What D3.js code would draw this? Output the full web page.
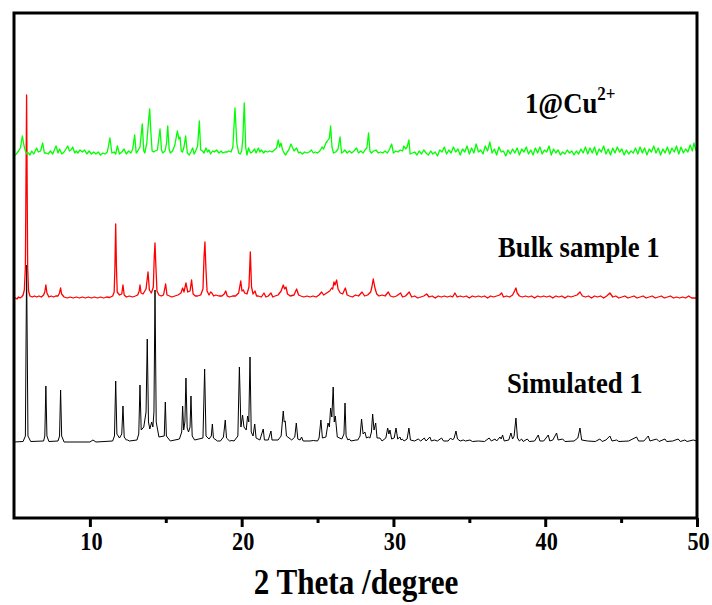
<!DOCTYPE html>
<html><head><meta charset="utf-8">
<script src="https://cdn.jsdelivr.net/npm/d3@7"></script>
<style>body{margin:0;background:#fff}svg{display:block}</style>
</head><body>
<svg id="c" width="712" height="605"></svg>
<script>
// ---- data (2θ in degree, intensity in a.u. counts above each pattern's own baseline) ----
const xTicks = [10, 20, 30, 40, 50];
const xMinorTicks = [15, 25, 35, 45];
const seriesNames = ["Simulated 1", "Bulk sample 1", "1@Cu"];
const seriesColors = ["#000000", "#ff0000", "#00ff00"];
const seriesOffsets = [760, 2210, 3650];

const simulated = [
[5.0,0],[5.6,5],[5.75,60],[5.83,1770],[5.92,60],[6.1,5],
[6.95,10],[7.03,60],[7.1,560],[7.17,60],[7.3,5],
[7.9,10],[8.0,60],[8.07,520],[8.14,60],[8.3,0],
[10.0,0],[10.2,20],[10.4,0],
[11.5,10],[11.62,60],[11.70,610],[11.78,80],[11.95,40],[12.1,80],[12.18,360],[12.26,50],[12.4,20],[12.49,20],[12.6,10],
[13.1,20],[13.22,80],[13.30,570],[13.38,120],[13.55,150],[13.70,300],[13.78,1030],[13.86,200],[13.95,130],[14.07,200],[14.15,150],[14.22,300],[14.29,1520],[14.37,200],[14.55,50],[14.9,60],[14.97,400],[15.04,60],[15.3,10],
[15.9,30],[16.05,100],[16.11,360],[16.18,120],[16.26,200],[16.33,640],[16.41,140],[16.5,100],[16.6,150],[16.66,460],[16.74,60],[16.9,20],
[17.45,40],[17.56,730],[17.65,60],[17.85,30],[18.0,60],[18.07,180],[18.14,40],[18.4,10],[18.6,10],[18.8,50],[18.92,220],[19.0,40],[19.2,10],[19.36,15],[19.5,10],
[19.75,60],[19.85,750],[19.95,150],[20.06,270],[20.15,150],[20.3,120],[20.39,260],[20.47,200],[20.55,850],[20.63,100],[20.75,60],[20.86,180],[20.95,40],[21.2,20],[21.42,130],[21.5,20],[21.75,20],[21.93,110],[22.0,20],[22.4,20],[22.6,60],[22.74,310],[22.8,200],[22.87,210],[22.95,60],[23.3,20],[23.5,50],[23.60,190],[23.7,30],[23.85,20],[23.95,50],[24.05,10],[24.5,10],[24.72,15],[25.0,10],
[25.1,40],[25.22,220],[25.32,40],[25.55,50],[25.69,190],[25.78,150],[25.86,340],[25.94,250],[26.03,550],[26.1,200],[26.17,260],[26.3,50],[26.6,30],[26.74,80],[26.81,390],[26.88,60],[27.0,20],[27.09,30],[27.2,10],[27.53,20],[27.65,20],[27.8,60],[27.90,230],[28.0,80],[28.12,100],[28.22,40],[28.34,50],[28.45,40],[28.55,100],[28.63,280],[28.72,120],[28.83,190],[28.92,40],[29.11,40],[29.25,10],
[29.5,40],[29.62,140],[29.7,80],[29.77,120],[29.88,30],[30.05,40],[30.17,140],[30.28,30],[30.43,50],[30.5,20],[30.58,30],[30.7,10],[30.9,30],[31.02,140],[31.12,20],[31.4,10],[31.63,30],[31.8,10],[32.03,40],[32.15,10],[32.4,50],[32.5,10],[32.69,20],[32.9,10],
[33.17,40],[33.3,10],[33.6,10],[33.77,40],[33.9,20],[34.0,40],[34.12,110],[34.22,30],[34.4,10],[34.6,20],[34.75,10],[35.04,20],[35.2,5],[35.6,10],[36.0,5],[36.31,40],[36.45,10],[36.69,30],[36.8,10],[37.02,50],[37.1,30],[37.19,70],[37.3,10],[37.6,20],[37.74,90],[37.85,30],[37.95,60],[38.07,240],[38.17,40],[38.3,10],[38.44,30],[38.55,5],[38.82,30],[38.95,5],
[39.3,10],[39.54,70],[39.65,10],[39.9,10],[40.2,70],[40.3,10],[40.5,20],[40.75,90],[40.85,20],[41.15,30],[41.3,5],[41.9,10],[42.15,40],[42.29,140],[42.4,20],[42.8,10],[43.3,5],[43.6,30],[43.75,5],[44.0,20],[44.26,60],[44.4,10],[44.7,20],[44.85,5],[45.5,10],[46.02,50],[46.15,10],[46.5,10],[46.79,60],[46.9,10],[47.34,30],[47.5,5],[47.89,30],[48.0,5],[48.4,10],[48.76,30],[48.9,5],[49.2,20],[49.35,5],[49.75,20],[50.0,10]
];

const bulk = [
[5.0,-20],[5.1,-10],[5.2,-20],[5.3,0],[5.4,-10],[5.5,0],[5.6,20],[5.68,70],[5.75,300],[5.83,2020],[5.9,300],[5.96,60],[6.05,10],[6.2,0],[6.35,10],[6.5,0],[6.65,10],[6.8,0],[6.95,20],[7.03,50],[7.1,120],[7.17,40],[7.3,0],[7.45,10],[7.6,0],[7.75,10],[7.9,10],[8.0,40],[8.07,90],[8.14,30],[8.3,0],[8.5,-10],[8.7,0],[8.9,-10],[9.1,0],[9.3,-10],[9.5,0],[9.7,-10],[9.9,0],[10.1,-10],[10.3,0],[10.5,-10],[10.7,0],[10.9,-10],[11.1,0],[11.3,-5],
[11.5,10],[11.6,50],[11.65,300],[11.70,730],[11.75,300],[11.8,50],[11.95,20],[12.1,30],[12.18,120],[12.26,20],[12.4,0],[12.6,10],[12.8,0],[13.0,10],[13.15,20],[13.25,60],[13.30,120],[13.37,40],[13.5,30],[13.7,80],[13.83,250],[13.92,70],[14.05,40],[14.18,100],[14.24,400],[14.29,540],[14.35,300],[14.42,60],[14.55,20],[14.7,10],[14.85,20],[14.99,130],[15.08,20],[15.25,10],[15.4,0],[15.6,10],[15.8,20],
[16.0,40],[16.11,90],[16.2,50],[16.33,140],[16.45,50],[16.6,60],[16.70,170],[16.8,30],[16.95,10],[17.1,10],[17.3,20],[17.45,80],[17.52,400],[17.58,550],[17.64,300],[17.72,60],[17.85,20],[17.96,50],[18.04,40],[18.15,10],[18.3,20],[18.5,10],[18.7,10],[18.85,30],[18.95,60],[19.05,10],[19.2,0],[19.4,10],[19.6,10],[19.8,40],[19.94,160],[20.02,60],[20.11,70],[20.2,40],[20.35,30],[20.48,100],[20.57,450],[20.65,100],[20.75,30],[20.88,60],[20.98,10],
[21.1,10],[21.3,0],[21.47,40],[21.6,0],[21.75,10],[21.93,40],[22.05,0],[22.2,10],[22.4,20],[22.6,60],[22.74,120],[22.83,80],[22.92,100],[23.02,30],[23.2,10],[23.45,20],[23.62,80],[23.75,20],[23.9,10],[24.1,0],[24.3,10],[24.5,0],[24.7,10],[24.9,0],[25.1,20],[25.27,50],[25.4,20],[25.6,40],[25.8,60],[25.93,90],[26.0,80],[26.08,150],[26.15,120],[26.26,170],[26.35,80],[26.5,40],[26.65,30],[26.83,90],[26.95,20],
[27.1,10],[27.3,0],[27.5,20],[27.7,10],[27.93,50],[28.1,10],[28.3,20],[28.50,50],[28.58,100],[28.67,180],[28.78,90],[28.9,30],[29.05,10],[29.25,20],[29.45,10],[29.66,50],[29.8,10],[30.0,0],[30.2,10],[30.47,40],[30.6,0],[30.8,10],[31.04,50],[31.2,0],[31.4,10],[31.6,-10],[31.8,0],[32.0,10],[32.19,30],[32.35,0],[32.55,10],[32.75,-10],[32.95,10],[33.15,0],[33.35,10],[33.55,0],[33.75,10],[33.9,0],[34.05,40],[34.2,0],[34.4,10],[34.6,0],[34.8,10],
[35.0,-10],[35.2,10],[35.4,0],[35.6,10],[35.8,0],[36.0,10],[36.2,-10],[36.4,10],[36.6,0],[36.8,10],[37.0,20],[37.13,40],[37.25,0],[37.45,10],[37.65,0],[37.85,20],[37.98,60],[38.07,90],[38.15,40],[38.3,10],[38.5,0],[38.7,10],[38.9,0],[39.1,10],[39.3,-10],[39.5,10],[39.7,0],[39.9,10],[40.1,0],[40.3,10],[40.5,-10],[40.7,10],[40.9,0],[41.1,10],[41.3,-10],[41.5,10],[41.7,0],[41.9,10],[42.1,20],[42.29,50],[42.45,10],[42.65,0],[42.85,10],
[43.05,-10],[43.25,10],[43.45,0],[43.65,10],[43.85,-10],[44.05,10],[44.26,40],[44.45,0],[44.65,10],[44.85,-10],[45.05,0],[45.25,10],[45.45,-10],[45.65,0],[45.85,10],[46.05,-10],[46.25,0],[46.45,10],[46.65,-10],[46.85,0],[47.05,10],[47.25,-10],[47.45,0],[47.65,10],[47.85,-10],[48.05,0],[48.25,10],[48.45,-10],[48.65,0],[48.85,-10],[49.05,0],[49.25,-10],[49.45,10],[49.65,-10],[49.85,-10],[50.0,-10]
];

const cuLoaded = [
[5.0,-30],[5.15,-10],[5.3,20],[5.42,50],[5.55,170],[5.65,80],[5.75,20],[5.85,-10],[5.95,0],[6.05,-20],[6.17,20],[6.3,-10],[6.49,50],[6.6,10],[6.75,20],[6.89,100],[7.0,0],[7.12,0],[7.25,-10],[7.4,20],[7.55,-10],[7.77,70],[7.9,0],[8.0,40],[8.15,-10],[8.3,10],[8.54,70],[8.65,20],[8.75,30],[8.87,60],[9.0,0],[9.1,20],[9.2,0],[9.35,30],[9.5,10],[9.65,30],[9.8,-10],[9.95,20],[10.1,-10],[10.25,10],[10.4,-10],[10.55,10],[10.7,-20],[10.85,0],[11.0,-10],[11.15,10],
[11.32,150],[11.45,0],[11.6,10],[11.7,-10],[11.81,70],[11.95,-10],[12.1,10],[12.25,40],[12.4,-10],[12.55,20],[12.7,0],[12.82,40],[12.95,180],[13.05,0],[13.15,20],[13.3,60],[13.45,290],[13.55,20],[13.62,0],[13.75,100],[13.87,330],[13.94,440],[14.02,200],[14.1,20],[14.2,10],[14.3,20],[14.45,30],[14.62,240],[14.72,30],[14.8,0],[14.95,20],[15.05,100],[15.13,270],[15.22,40],[15.3,0],[15.45,20],[15.6,80],[15.76,220],[15.87,140],[15.94,160],[16.02,20],[16.1,10],[16.2,60],[16.31,170],[16.42,0],[16.55,-20],[16.65,10],[16.77,50],[16.87,-10],[16.97,20],
[17.1,70],[17.21,320],[17.3,30],[17.42,20],[17.52,0],[17.65,50],[17.75,10],[17.85,30],[17.95,-10],[18.08,20],[18.2,10],[18.35,30],[18.5,0],[18.65,20],[18.75,0],[18.9,10],[19.05,10],[19.15,20],[19.3,10],[19.42,60],[19.56,450],[19.68,100],[19.8,0],[19.9,-10],[20.0,20],[20.08,150],[20.17,500],[20.27,50],[20.35,-20],[20.45,50],[20.58,0],[20.7,10],[20.85,40],[20.95,0],[21.1,50],[21.2,10],[21.3,30],[21.45,0],[21.55,20],[21.7,10],[21.85,20],[22.0,10],[22.15,30],[22.3,50],[22.41,130],[22.5,60],[22.59,100],[22.7,30],[22.8,0],[22.9,-20],
[23.0,10],[23.1,30],[23.25,90],[23.33,60],[23.45,20],[23.62,50],[23.75,0],[23.85,10],[24.0,-10],[24.15,10],[24.3,0],[24.45,10],[24.6,30],[24.72,0],[24.85,10],[25.0,0],[25.15,20],[25.3,60],[25.4,40],[25.55,100],[25.65,120],[25.78,150],[25.86,270],[25.95,60],[26.05,0],[26.2,10],[26.35,40],[26.48,160],[26.58,0],[26.68,10],[26.8,30],[26.95,0],[27.1,20],[27.25,0],[27.4,20],[27.57,50],[27.7,0],[27.85,20],[28.0,0],[28.12,30],[28.25,50],[28.36,200],[28.45,20],[28.55,0],[28.7,20],[28.85,30],[29.0,0],
[29.15,10],[29.3,0],[29.45,20],[29.6,0],[29.75,40],[29.88,90],[30.0,0],[30.15,20],[30.3,10],[30.45,30],[30.6,20],[30.69,70],[30.8,40],[30.9,60],[31.02,130],[31.1,-10],[31.25,0],[31.4,10],
[31.55,-20],[31.7,20],[31.85,-10],[32.0,30],[32.15,0],[32.3,-20],[32.45,20],[32.6,-10],[32.75,10],[32.9,-30],[33.05,30],[33.2,10],[33.35,60],[33.5,-10],[33.65,30],[33.8,0],[33.95,60],[34.1,10],[34.25,40],[34.4,-20],[34.55,40],[34.7,10],[34.85,70],[35.0,-10],[35.15,50],[35.3,0],[35.45,90],[35.6,10],[35.75,30],[35.9,-10],[36.05,70],[36.2,20],[36.35,110],[36.5,0],[36.65,40],[36.8,-20],[36.95,60],[37.1,10],[37.25,20],[37.4,-30],[37.55,30],[37.7,-10],[37.85,40],[38.0,0],[38.15,50],[38.3,-20],[38.45,40],[38.6,10],[38.75,60],[38.9,-10],
[39.05,30],[39.2,-20],[39.35,50],[39.5,0],[39.65,60],[39.8,-10],[39.95,30],[40.1,10],[40.25,70],[40.4,-20],[40.55,40],[40.7,0],[40.85,30],[41.0,-20],[41.15,10],[41.3,-10],[41.45,30],[41.6,0],[41.75,20],[41.9,-20],[42.05,20],[42.2,-10],[42.35,40],[42.5,0],[42.65,60],[42.8,-10],[42.95,50],[43.1,0],[43.25,60],[43.4,-20],[43.55,40],[43.7,10],[43.85,70],[44.0,-10],[44.15,40],[44.3,-20],[44.45,50],[44.6,0],[44.75,60],[44.9,10],
[45.05,40],[45.2,-20],[45.35,30],[45.5,-10],[45.65,20],[45.8,0],[45.95,50],[46.1,-10],[46.25,60],[46.4,0],[46.55,50],[46.7,-20],[46.85,40],[47.0,10],[47.15,70],[47.3,0],[47.45,50],[47.6,-20],[47.75,40],[47.9,0],[48.05,60],[48.2,-10],[48.35,50],[48.5,10],[48.65,70],[48.8,-10],[48.95,60],[49.1,0],[49.25,40],[49.4,10],[49.55,80],[49.7,20],[49.8,100],[49.9,40],[50.0,10]
];

// ---- drawing ----
const W = 712, H = 605;
const m = {left: 14, right: 15, top: 13, bottom: 87};
const svg = d3.select("#c");
const x = d3.scaleLinear().domain([5, 50]).range([m.left, W - m.right]);
const y = d3.scaleLinear().domain([0, 5050]).range([H - m.bottom, m.top]);
const SX = 0.89; // condensed serif look of the original

svg.append("defs").append("clipPath").attr("id", "clip")
  .append("rect").attr("x", m.left).attr("y", m.top)
  .attr("width", W - m.left - m.right).attr("height", H - m.top - m.bottom);

const allSeries = [simulated, bulk, cuLoaded];
const widths = [1, 1.3, 1.3];
const g = svg.append("g").attr("clip-path", "url(#clip)");
allSeries.forEach((s, i) => {
  const line = d3.line().x(d => x(d[0])).y(d => y(d[1] + seriesOffsets[i]));
  g.append("path").datum(s)
    .attr("fill", "none").attr("stroke", seriesColors[i])
    .attr("stroke-width", widths[i]).attr("stroke-linejoin", "round")
    .attr("d", line);
});

// frame
svg.append("rect").attr("x", m.left).attr("y", m.top)
  .attr("width", W - m.left - m.right).attr("height", H - m.top - m.bottom)
  .attr("fill", "none").attr("stroke", "#000").attr("stroke-width", 3);

const font = "'Liberation Serif','Times New Roman',serif";
// bottom axis
const axis = svg.append("g").attr("transform", `translate(0,${H - m.bottom})`)
  .call(d3.axisBottom(x).tickValues(xTicks).tickSize(9).tickFormat(d3.format("d")));
axis.select(".domain").remove();
axis.selectAll(".tick line").attr("stroke", "#000").attr("stroke-width", 3);
axis.selectAll(".tick text").attr("font-family", font).attr("font-weight", "bold")
  .attr("font-size", 25).attr("fill", "#000").attr("dy", null).attr("y", 0)
  .attr("transform", `translate(1,32) scale(${SX},1)`);
const minor = svg.append("g").attr("transform", `translate(0,${H - m.bottom})`)
  .call(d3.axisBottom(x).tickValues(xMinorTicks).tickSize(5).tickFormat(""));
minor.select(".domain").remove();
minor.selectAll(".tick line").attr("stroke", "#000").attr("stroke-width", 3);

svg.append("text").attr("transform", `translate(356,594) scale(${SX},1)`)
  .attr("text-anchor", "middle")
  .attr("font-family", font).attr("font-weight", "bold").attr("font-size", 35)
  .text("2 Theta /degree");

// series labels
const lab = (t, xx, yy) => svg.append("text").attr("transform", `translate(${xx},${yy}) scale(${SX},1)`)
  .attr("font-family", font).attr("font-weight", "bold").attr("font-size", 30).text(t);
lab(seriesNames[0], 507, 393);
lab(seriesNames[1], 498, 257);
const cu = lab(seriesNames[2], 525, 113);
cu.append("tspan").attr("font-size", 19).attr("dy", -13).text("2+");
</script>
</body></html>
